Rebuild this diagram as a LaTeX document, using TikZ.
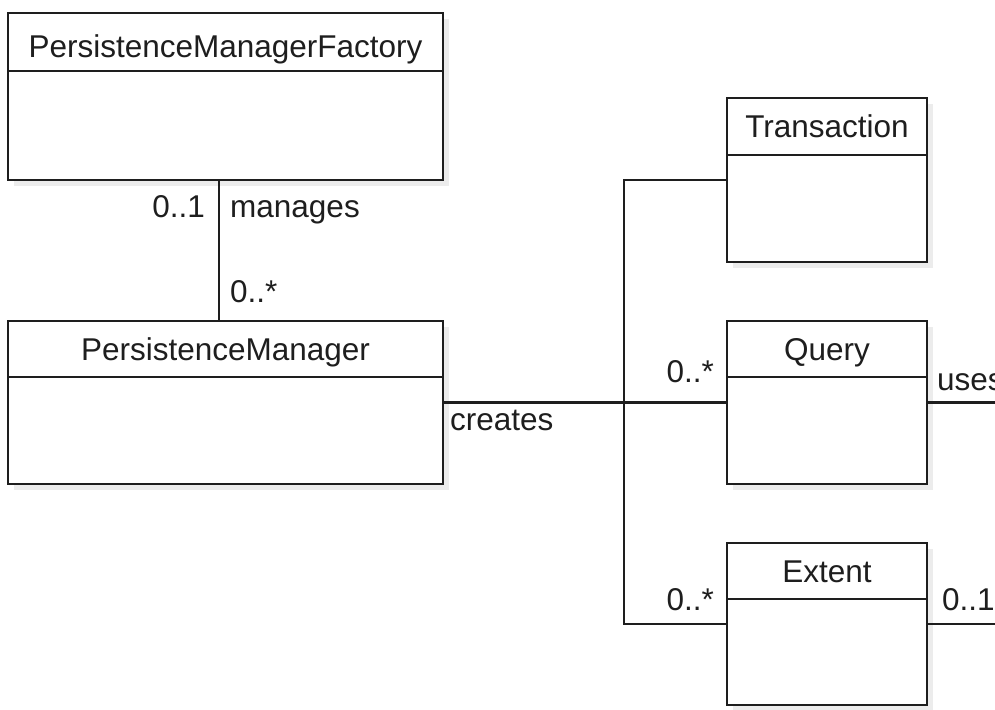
\documentclass[tikz,border=0pt]{standalone}
\usepackage{fontspec}
\setmainfont{Liberation Sans}
\usetikzlibrary{shadows}
\definecolor{ink}{HTML}{1E1E1E}
\tikzset{
  classbox/.style={draw=ink, line width=1.8pt, fill=white, inner sep=0pt, outer sep=0pt,
    anchor=north west,
    drop shadow={shadow xshift=6pt, shadow yshift=-6pt, fill=gray!30, opacity=0.5}},
  divider/.style={draw=ink, line width=1.6pt},
  conn/.style={draw=ink, line width=2.6pt},
  lbl/.style={text=ink, inner sep=0pt, anchor=base, font=\fontsize{31.5}{36}\selectfont},
}
\begin{document}
\begin{tikzpicture}[x=1pt, y=-1pt]
\useasboundingbox (0,0) rectangle (995,709);

% class boxes
\node[classbox, minimum width=435pt, minimum height=167pt] (pmf) at (8,13) {};
\node[classbox, minimum width=435pt, minimum height=163pt] (pm) at (8,321) {};
\node[classbox, minimum width=200pt, minimum height=164pt] (tr) at (727,98) {};
\node[classbox, minimum width=200pt, minimum height=163pt] (qu) at (727,321) {};
\node[classbox, minimum width=200pt, minimum height=162pt] (ex) at (727,543) {};

% name compartments
\draw[divider] (pmf.west |- 0,71) -- (pmf.east |- 0,71);
\draw[divider] (pm.west |- 0,377) -- (pm.east |- 0,377);
\draw[divider] (tr.west |- 0,155) -- (tr.east |- 0,155);
\draw[divider] (qu.west |- 0,377) -- (qu.east |- 0,377);
\draw[divider] (ex.west |- 0,599) -- (ex.east |- 0,599);

% class names
\node[lbl] (pmfname) at (225.5,58) {PersistenceManagerFactory};
\node[lbl] (pmname) at (225.5,360) {PersistenceManager};
\node[lbl] (trname) at (827,137) {Transaction};
\node[lbl] (quname) at (827,360) {Query};
\node[lbl] (exname) at (827,582) {Extent};

% manages association
\draw[conn] (pmf.south -| 219,0) -- (pm.north -| 219,0);
\node[lbl, anchor=base east] (m1) at (205,217) {0..1};
\node[lbl, anchor=base west] (m2) at (230,217) {manages};
\node[lbl, anchor=base west] (m3) at (230,302) {0..*};

% creates association
\coordinate (hub) at (624,402.5);
\draw[conn] (pm.east) -- (qu.west);
\draw[conn] (tr.west) -| (hub) |- (ex.west);
\node[lbl, anchor=base west] (c1) at (450,430) {creates};
\node[lbl, anchor=base east] (c2) at (714,382) {0..*};
\node[lbl, anchor=base east] (c3) at (714,610) {0..*};

% associations leaving to the right
\coordinate (quend) at (995,402.5);
\coordinate (exend) at (995,624);
\draw[conn] (qu.east) -- (quend);
\draw[conn] (ex.east) -- (exend);
\node[lbl, anchor=base west] (u1) at (937,390) {uses};
\node[lbl, anchor=base west] (u2) at (942,610) {0..1};
\end{tikzpicture}
\end{document}
